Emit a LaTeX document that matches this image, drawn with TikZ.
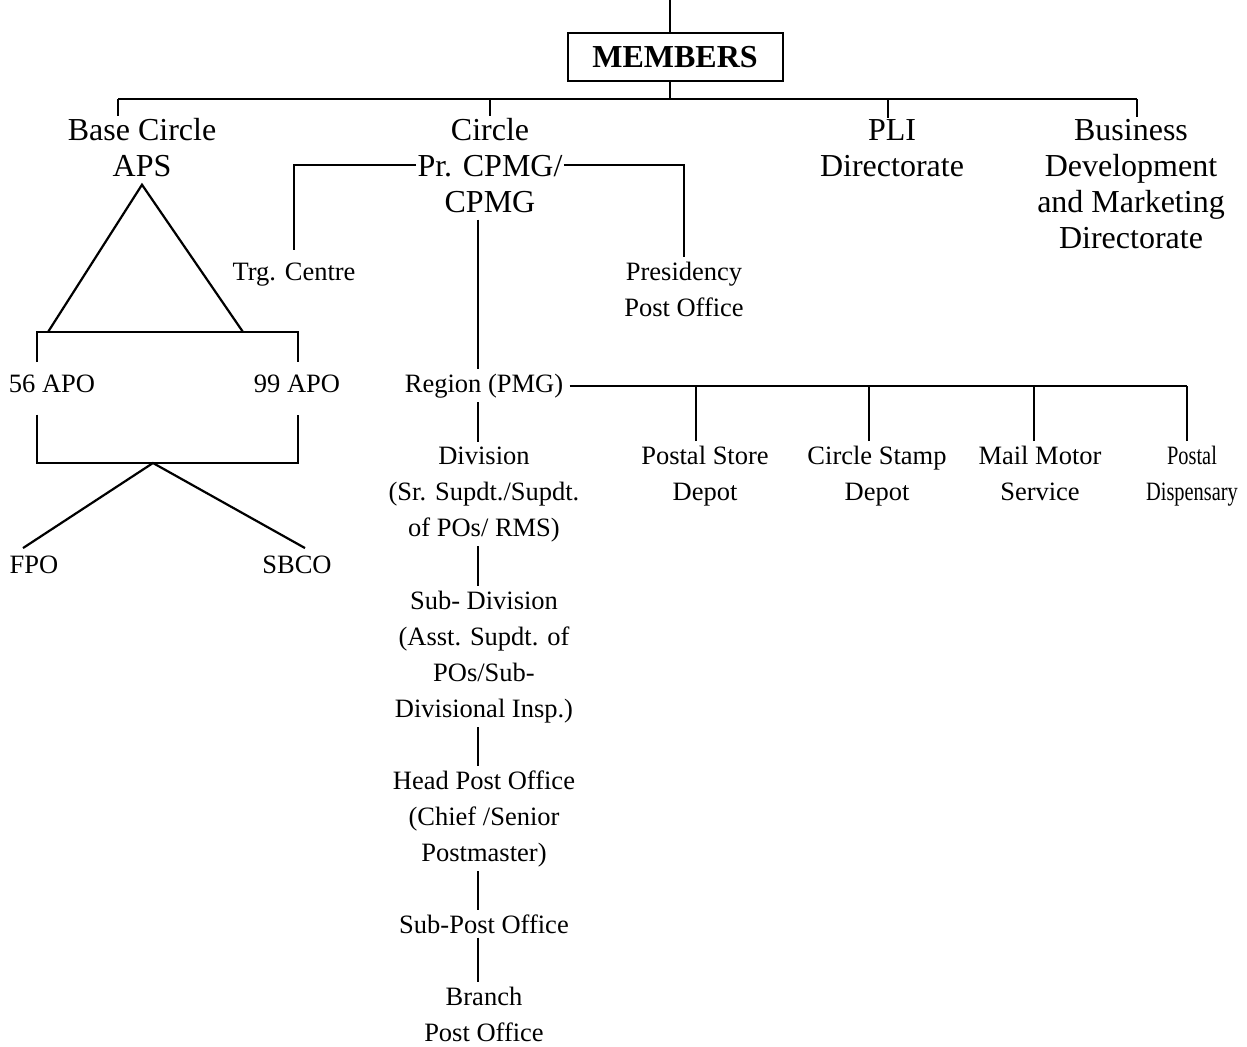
\documentclass[tikz,border=0pt]{standalone}
\usepackage{fontspec}
\setmainfont{Liberation Serif}
\usetikzlibrary{positioning,calc}

\begin{document}
\begin{tikzpicture}[
    x=0.5pt, y=-0.5pt,
    big/.style={font=\fontsize{16}{18}\selectfont, align=center, inner sep=0.5pt, anchor=base},
    small/.style={font=\fontsize{13.25}{18}\selectfont, align=center, inner xsep=3pt, inner ysep=2pt, anchor=base},
    membox/.style={draw, line width=1pt, font=\bfseries\fontsize{16}{18}\selectfont, minimum width=107.5pt, minimum height=24pt, inner sep=0pt},
    conn/.style={line width=1.1pt}
]
\useasboundingbox (0,0) rectangle (1247,1046);
% top level (multi-line nodes sit on their last line)
\node[membox] (mem) at (675,57) {MEMBERS};
\coordinate (top) at (670,0);
\coordinate (jm) at (670,99);
\coordinate (jb) at (118,99);
\coordinate (jc) at (490,99);
\coordinate (jp) at (888,99);
\coordinate (jd) at (1137,99);
\node[big] (base) at (142,176) {Base Circle\\APS};
\node[big] (circ) at (490,212) {Circle\\Pr. CPMG/\\CPMG};
\node[big] (pli) at (892,176) {PLI\\Directorate};
\node[big] (bus) at (1131,248) {Business\\Development\\and Marketing\\Directorate};
\draw[conn] (top) -- (mem.north -| top);
\draw[conn] (mem.south -| top) -- (jm);
\draw[conn] (jb) -- (jd);
\foreach \j/\n in {jb/base, jc/circ, jp/pli, jd/bus}
  \draw[conn] (\j) -- (\j |- \n.north);
% base circle
\coordinate (tl) at (48,332);
\coordinate (tr) at (243,332);
\coordinate (ul) at (37,332);
\coordinate (ur) at (298,332);
\coordinate (ll) at (37,463);
\coordinate (lr) at (298,463);
\coordinate (lm) at (153,463);
\node[small] (apo56) at (52,392) {56 APO};
\node[small] (apo99) at (297,392) {99 APO};
\node[small] (fpo) at (34,573) {FPO};
\node[small] (sbco) at (297,573) {SBCO};
\draw[conn] (tl) -- ([yshift=-3.5pt]base.south) -- (tr);
\draw[conn] ([yshift=4pt]apo56.north -| ul) -- (ul) -- (ur) -- ([yshift=4pt]apo99.north -| ur);
\draw[conn] ([yshift=-9pt]apo56.south -| ll) -- (ll) -- (lr) -- ([yshift=-9pt]apo99.south -| lr);
\draw[conn] ([xshift=-5.5pt,yshift=1.5pt]fpo.north) -- (lm) -- ([xshift=4pt,yshift=1.5pt]sbco.north);
% circle
\node[small] (trg) at (294,280) {Trg. Centre};
\node[small] (pres) at (684,316) {Presidency\\Post Office};
\draw[conn] (circ.west) -| ([yshift=4pt]trg.north);
\draw[conn] (circ.east) -| (pres.north);
\coordinate (spine) at (478,0);
\node[small] (reg) at (484,392) {Region (PMG)};
\draw[conn, shorten <=3pt] (circ.south -| spine) -- (reg.north -| spine);
% region units
\node[small] (psd) at (705,500) {Postal Store\\Depot};
\node[small] (csd) at (877,500) {Circle Stamp\\Depot};
\node[small] (mms) at (1040,500) {Mail Motor\\Service};
\node[small] (pd) at (1192,500) {\scalebox{0.77}[1]{Postal}\\\scalebox{0.77}[1]{Dispensary}};
\draw[conn] (reg.east) -- ([xshift=-2.5pt]pd.north |- reg.east);
\foreach \n/\dx in {psd/-4.5, csd/-4, mms/-3, pd/-2.5}
  \draw[conn] ([xshift=\dx pt]\n.north) -- ([xshift=\dx pt]\n.north |- reg.east);
% chain down to branch
\node[small] (div) at (484,536) {Division\\(Sr. Supdt./Supdt.\\of POs/ RMS)};
\node[small] (sub) at (484,717) {Sub- Division\\(Asst. Supdt. of\\POs/Sub-\\Divisional Insp.)};
\node[small] (hpo) at (484,861) {Head Post Office\\(Chief /Senior\\Postmaster)};
\node[small] (spo) at (484,933) {Sub-Post Office};
\node[small] (bpo) at (484,1041) {Branch\\Post Office};
\foreach \a/\b in {reg/div, div/sub, sub/hpo, hpo/spo, spo/bpo}
  \draw[conn] (\a.south -| spine) -- (\b.north -| spine);
\end{tikzpicture}
\end{document}
